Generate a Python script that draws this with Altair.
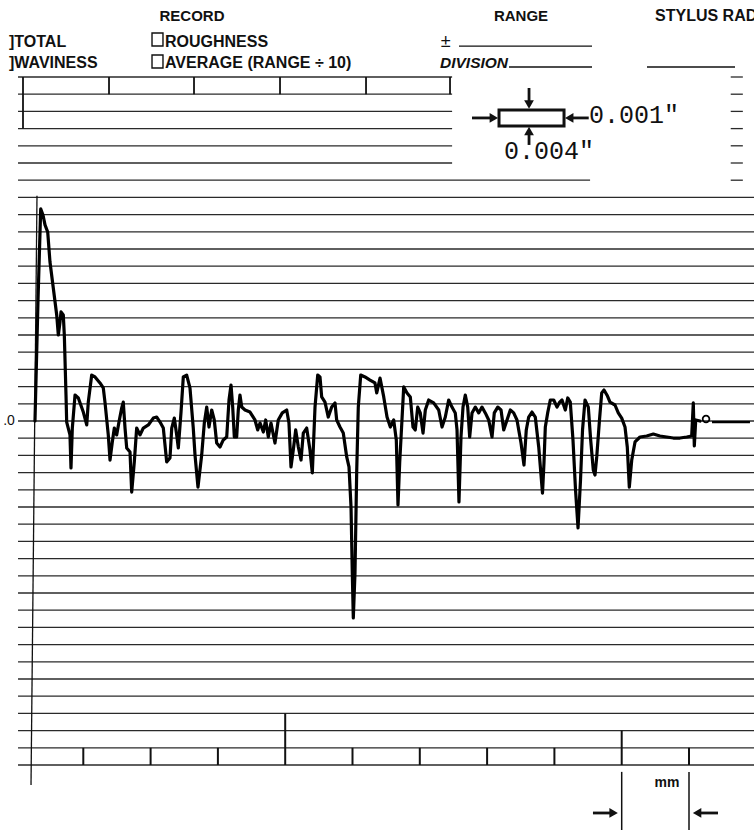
import altair as alt
import pandas as pd

# ---------------- data ----------------
# stylus trace: position along chart (mm divisions) and height (chart divisions)
trace_x = [0.282, 0.327, 0.367, 0.401, 0.431, 0.471, 0.505, 0.554, 0.605, 0.629,
           0.654, 0.669, 0.703, 0.718, 0.743, 0.753, 0.802, 0.817, 0.837, 0.877,
           0.926, 1.000, 1.051, 1.074, 1.125, 1.174, 1.248, 1.297, 1.322, 1.371,
           1.397, 1.431, 1.461, 1.496, 1.530, 1.571, 1.594, 1.620, 1.645, 1.694,
           1.719, 1.758, 1.793, 1.842, 1.892, 1.966, 2.040, 2.091, 2.140, 2.189,
           2.239, 2.288, 2.314, 2.352, 2.388, 2.412, 2.452, 2.486, 2.536, 2.585,
           2.634, 2.660, 2.704, 2.759, 2.798, 2.834, 2.868, 2.908, 2.946, 2.982,
           3.031, 3.080, 3.131, 3.165, 3.195, 3.220, 3.244, 3.279, 3.303, 3.328,
           3.354, 3.403, 3.477, 3.551, 3.591, 3.626, 3.675, 3.710, 3.749, 3.789,
           3.848, 3.897, 3.957, 4.022, 4.056, 4.086, 4.120, 4.156, 4.195, 4.235,
           4.269, 4.319, 4.368, 4.403, 4.443, 4.483, 4.517, 4.542, 4.591, 4.640,
           4.691, 4.740, 4.765, 4.814, 4.863, 4.914, 4.948, 4.978, 4.997, 5.012,
           5.037, 5.062, 5.086, 5.122, 5.186, 5.260, 5.334, 5.360, 5.409, 5.464,
           5.513, 5.562, 5.612, 5.651, 5.676, 5.701, 5.735, 5.761, 5.810, 5.859,
           5.899, 5.933, 5.969, 6.007, 6.048, 6.082, 6.132, 6.206, 6.281, 6.330,
           6.379, 6.429, 6.478, 6.527, 6.553, 6.582, 6.612, 6.642, 6.676, 6.712,
           6.741, 6.776, 6.825, 6.875, 6.924, 6.973, 7.024, 7.073, 7.107, 7.158,
           7.207, 7.247, 7.296, 7.345, 7.395, 7.444, 7.504, 7.548, 7.582, 7.618,
           7.667, 7.716, 7.767, 7.823, 7.845, 7.865, 7.900, 7.939, 7.990, 8.039,
           8.079, 8.113, 8.162, 8.198, 8.236, 8.276, 8.314, 8.351, 8.388, 8.418,
           8.455, 8.504, 8.539, 8.578, 8.603, 8.629, 8.670, 8.703, 8.737, 8.789,
           8.826, 8.900, 8.949, 9.000, 9.049, 9.083, 9.113, 9.149, 9.198, 9.272,
           9.371, 9.470, 9.569, 9.669, 9.767, 9.866, 9.966, 10.040, 10.064, 10.079,
           10.100, 10.163]
trace_y = [0, 7.03, 12.33, 11.98, 11.40, 10.99, 9.24, 7.73, 6.16, 5.00,
           5.76, 6.34, 6.16, 5.00, 1.51, -0.06, -0.81, -2.73, -0.41, 1.51,
           1.34, 0.52, -0.23, 1.10, 2.67, 2.56, 2.21, 1.92, 1.10, -0.81,
           -2.27, -1.22, -0.41, -0.81, -0.06, 0.76, 1.10, -0.41, -1.57, -1.80,
           -4.13, -2.38, -0.41, -0.81, -0.41, -0.23, 0.17, 0.23, -0.06, -0.41,
           -2.38, -2.15, -0.41, 0.17, -0.81, -1.57, 0.52, 2.56, 2.67, 1.92,
           -0.41, -1.98, -3.84, -1.98, -0.12, 0.81, -0.35, 0.64, 0.06, -1.28,
           -1.51, -1.10, -0.93, 1.22, 2.09, 0.81, -0.93, -0.93, 0.64, 1.51,
           0.81, 0.64, 0.52, 0.06, -0.52, -0.12, -0.64, 0.06, -0.93, -0.12,
           -1.28, 0.06, 0.47, 0.64, -0.12, -2.67, -1.69, -0.52, -1.51, -2.27,
           -0.70, -0.41, -1.69, -3.02, 0.81, 2.67, 2.56, 1.40, 1.10, 0.23,
           0.81, 1.05, 0.06, -0.35, -0.70, -2.09, -2.67, -5.00, -8.84, -11.45,
           -8.84, -3.02, 0.81, 2.67, 2.56, 2.38, 2.21, 1.63, 2.50, 1.40,
           0.23, -0.35, 0.06, -1.10, -4.88, -2.44, 0.06, 1.98, 1.63, 1.40,
           -0.35, -0.52, 0.81, 0.47, -0.70, 0.64, 1.22, 1.05, 0.64, -0.35,
           0.23, 1.22, 0.81, 0.47, -0.52, -4.71, -0.93, 0.81, 1.51, 0.81,
           -0.93, 0.47, 0.81, 0.47, 0.81, 0.47, 0.06, -0.93, 0.47, 0.81,
           0.64, -0.52, 0.06, 0.64, 0.47, 0.06, -1.28, -2.56, -0.52, 0.23,
           0.52, 0.23, -1.51, -4.19, -2.44, -0.35, 0.47, 1.22, 1.22, 0.81,
           1.10, 1.22, 0.64, 1.34, 1.10, -1.10, -4.01, -6.22, -3.43, -0.52,
           1.22, 0.81, -1.10, -2.85, -3.14, -2.09, 0.06, 1.63, 1.80, 1.45,
           1.10, 0.93, 0.47, 0.17, -0.35, -1.51, -3.84, -2.27, -1.22, -0.93,
           -0.87, -0.76, -0.87, -0.93, -0.99, -0.99, -0.93, -0.87, 1.05, -1.45,
           0.06, 0]

end_marker_x = [10.253]
end_marker_y = [0.12]
tail_x = [10.342, 10.906]
tail_y = [-0.06, -0.06]

grid_levels = list(range(-20, 21))
bottom_ticks = [1, 2, 3, 4, 5, 6, 7, 8, 9, 10]
top_ticks = [1.382, 2.645, 3.923, 5.201, 6.449]

header_labels = ["RECORD", "RANGE"]
left_labels = ["]TOTAL", "]WAVINESS", "ROUGHNESS", "AVERAGE (RANGE \u00f7 10)"]
scale_labels = ["0.001\"", "0.004\""]

# ---------------- chart ----------------
X_MAX = 738 / 67.3
xs = alt.Scale(domain=[0, X_MAX], nice=False, zero=False)
ys = alt.Scale(domain=[-20, 20], nice=False, zero=False)


def X(f):
    return alt.X(f, type="quantitative", scale=xs, axis=None)


def Y(f):
    return alt.Y(f, type="quantitative", scale=ys, axis=None)


INK = "#111111"

# horizontal chart-paper lines
rows = []
for lv in grid_levels:
    if lv >= 15:
        rows.append({"lv": lv, "a": 0.03, "b": 6.48})
        rows.append({"lv": lv, "a": 10.62, "b": 10.80})
    elif lv == 14:
        rows.append({"lv": lv, "a": 0.03, "b": 8.53})
        rows.append({"lv": lv, "a": 10.62, "b": 10.80})
    else:
        rows.append({"lv": lv, "a": 0.03, "b": X_MAX})
grid = alt.Chart(pd.DataFrame(rows)).mark_rule(color="#2a2a2a", strokeWidth=1.3).encode(
    x=X("a"), x2="b", y=Y("lv"))

# vertical form lines
vrows = [{"x": 0.312, "x2": 0.223, "y": 13.1, "y2": -21.16, "w": 1.3},
         {"x": 0.104, "x2": 0.104, "y": 20, "y2": 17, "w": 1.8}]
for t in top_ticks:
    vrows.append({"x": t, "x2": t, "y": 20, "y2": 19, "w": 1.8})
for t in bottom_ticks:
    top = -17 if t == 4 else (-18 if t == 9 else -19)
    vrows.append({"x": t, "x2": t, "y": top, "y2": -20, "w": 2})
for t in [9, 10]:
    vrows.append({"x": t, "x2": t, "y": -20.4, "y2": -23.8, "w": 1.5})
vlines = alt.Chart(pd.DataFrame(vrows)).mark_rule(color=INK).encode(
    x=X("x"), x2="x2", y=Y("y"), y2="y2",
    strokeWidth=alt.StrokeWidth("w:Q", scale=None))

# header underlines
urows = [{"a": 6.582, "b": 8.559, "lv": 21.80},
         {"a": 7.325, "b": 8.559, "lv": 20.58},
         {"a": 9.376, "b": 10.684, "lv": 20.58}]
ulines = alt.Chart(pd.DataFrame(urows)).mark_rule(color=INK, strokeWidth=1.3).encode(
    x=X("a"), x2="b", y=Y("lv"))

# check boxes
boxes = alt.Chart(pd.DataFrame([
    {"a": 2.021, "b": 2.184, "t": 22.56, "u": 21.80},
    {"a": 2.021, "b": 2.184, "t": 21.28, "u": 20.52}])).mark_rect(
    fillOpacity=0, stroke=INK, strokeWidth=1.4).encode(
    x=X("a"), x2="b", y=Y("t"), y2="u")

# scale diagram box
diag = alt.Chart(pd.DataFrame([{"a": 7.177, "b": 8.143, "t": 18.08, "u": 17.15}])).mark_rect(
    fillOpacity=0, stroke=INK, strokeWidth=3).encode(x=X("a"), x2="b", y=Y("t"), y2="u")

shafts = alt.Chart(pd.DataFrame([
    {"x": 6.776, "x2": 7.10, "y": 17.62, "y2": 17.62},
    {"x": 8.51, "x2": 8.22, "y": 17.62, "y2": 17.62},
    {"x": 7.623, "x2": 7.623, "y": 19.36, "y2": 18.4},
    {"x": 7.623, "x2": 7.623, "y": 16.05, "y2": 16.86},
    {"x": 8.573, "x2": 8.86, "y": -22.79, "y2": -22.79},
    {"x": 10.431, "x2": 10.14, "y": -22.79, "y2": -22.79}])).mark_rule(
    color=INK, strokeWidth=2.8).encode(x=X("x"), x2="x2", y=Y("y"), y2="y2")

heads = alt.Chart(pd.DataFrame([
    {"x": 7.10, "y": 17.62, "s": "triangle-right"},
    {"x": 8.22, "y": 17.62, "s": "triangle-left"},
    {"x": 7.623, "y": 18.4, "s": "triangle-down"},
    {"x": 7.623, "y": 16.86, "s": "triangle-up"},
    {"x": 8.88, "y": -22.79, "s": "triangle-right"},
    {"x": 10.12, "y": -22.79, "s": "triangle-left"}])).mark_point(
    filled=True, color=INK, size=95, opacity=1).encode(
    x=X("x"), y=Y("y"), shape=alt.Shape("s:N", scale=None))

# trace
trace_df = pd.DataFrame({"x": trace_x, "y": trace_y, "i": range(len(trace_x))})
trace = alt.Chart(trace_df).mark_line(color="black", strokeWidth=3.2, strokeJoin="round",
                                       strokeCap="round").encode(
    x=X("x"), y=Y("y"), order="i:Q")
tail = alt.Chart(pd.DataFrame({"x": tail_x, "y": tail_y})).mark_line(
    color="black", strokeWidth=2.2).encode(x=X("x"), y=Y("y"))
marker = alt.Chart(pd.DataFrame({"x": end_marker_x, "y": end_marker_y})).mark_point(
    shape="circle", filled=False, size=45, strokeWidth=1.8, color="black", opacity=1).encode(
    x=X("x"), y=Y("y"))


def text_layer(recs, **props):
    return alt.Chart(pd.DataFrame(recs)).mark_text(color=INK, **props).encode(
        x=X("x"), y=Y("y"), text="t:N")


t_head = text_layer([{"x": 2.615, "y": 23.26, "t": header_labels[0]},
                     {"x": 7.504, "y": 23.26, "t": header_labels[1]}],
                    align="center", baseline="alphabetic", font="Liberation Sans",
                    fontSize=15, fontWeight="bold")
t_stylus = text_layer([{"x": 9.495, "y": 23.26, "t": "STYLUS RADIUS"}],
                      align="left", baseline="alphabetic", font="Liberation Sans",
                      fontSize=16, fontWeight="bold")
t_left = text_layer([{"x": -0.104, "y": 21.74, "t": left_labels[0]},
                     {"x": -0.104, "y": 20.52, "t": left_labels[1]},
                     {"x": 2.214, "y": 21.74, "t": left_labels[2]},
                     {"x": 2.214, "y": 20.52, "t": left_labels[3]}],
                    align="left", baseline="alphabetic", font="Liberation Sans",
                    fontSize=16, fontWeight="bold")
t_pm = text_layer([{"x": 6.31, "y": 21.74, "t": "\u00b1"}],
                  align="left", baseline="alphabetic", font="Liberation Sans", fontSize=18)
t_div = text_layer([{"x": 6.30, "y": 20.52, "t": "DIVISION"}],
                   align="left", baseline="alphabetic", font="Liberation Sans",
                   fontSize=15.5, fontWeight="bold", fontStyle="italic")
t_scale = text_layer([{"x": 8.514, "y": 17.33, "t": scale_labels[0]},
                      {"x": 7.252, "y": 15.23, "t": scale_labels[1]}],
                     align="left", baseline="alphabetic", font="Liberation Mono", fontSize=25)
t_mm = text_layer([{"x": 9.673, "y": -21.28, "t": "mm"}],
                  align="center", baseline="alphabetic", font="Liberation Sans",
                  fontSize=14, fontWeight="bold")
t_zero = text_layer([{"x": -0.19, "y": 0, "t": ".0"}],
                    align="left", baseline="middle", font="Liberation Sans", fontSize=14)

chart = alt.layer(grid, vlines, ulines, boxes, diag, shafts, heads, tail, trace, marker,
                  t_head, t_stylus, t_left, t_pm, t_div, t_scale, t_mm, t_zero).properties(
    width=738, height=688,
    padding={"left": 16, "top": 77, "right": 0, "bottom": 65},
    autosize=alt.AutoSizeParams(type="none"),
    background="white",
).configure_view(stroke=None)

chart.save("out.html", embed_options={"renderer": "svg", "actions": False})
